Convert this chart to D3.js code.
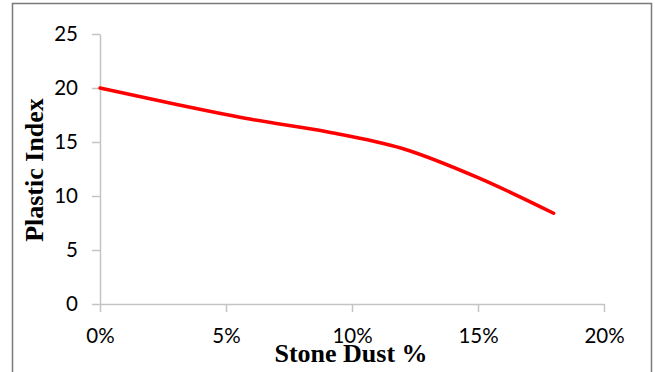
<!DOCTYPE html>
<html>
<head>
<meta charset="utf-8">
<script src="https://cdn.jsdelivr.net/npm/d3@7"></script>
<style>
  html, body { margin: 0; padding: 0; background: #fff; }
  svg { display: block; }
  .tick text { font-family: Lato, "Open Sans", sans-serif; font-size: 20.5px; fill: #000; }
  .axis-title { font-family: "Liberation Serif", "Times New Roman", serif; font-weight: bold; font-size: 26px; fill: #000; }
</style>
</head>
<body>
<svg id="chart" width="655" height="372"></svg>
<script>
// Stone dust content (fraction) and the measured plastic index
const stoneDust = [0, 0.03, 0.06, 0.09, 0.12, 0.15, 0.18];
const plasticIndex = [20.0, 18.5, 17.1, 15.95, 14.4, 11.7, 8.4];
const xTicks = [0, 0.05, 0.10, 0.15, 0.20];
const yTicks = [0, 5, 10, 15, 20, 25];

const svg = d3.select("#chart");

// chart frame
svg.append("rect")
  .attr("x", 12.5).attr("y", 3.5)
  .attr("width", 639).attr("height", 400)
  .attr("fill", "none")
  .attr("stroke", "#7a7a7a")
  .attr("stroke-width", 1.5);

const x = d3.scaleLinear().domain([0, 0.20]).range([100, 604]);
const y = d3.scaleLinear().domain([0, 25]).range([304, 34]);

const axisColor = "#c4c4c4";

const yAxis = svg.append("g")
  .attr("transform", `translate(${x(0)},0)`)
  .call(d3.axisLeft(y).tickValues(yTicks).tickSizeInner(8).tickSizeOuter(0).tickPadding(14));

const xAxis = svg.append("g")
  .attr("transform", `translate(0,${y(0)})`)
  .call(d3.axisBottom(x).tickValues(xTicks).tickFormat(d3.format(".0%"))
    .tickSizeInner(8).tickSizeOuter(0).tickPadding(16));

[xAxis, yAxis].forEach(g => {
  g.select(".domain").attr("stroke", axisColor).attr("stroke-width", 1.5);
  g.selectAll(".tick line").attr("stroke", axisColor).attr("stroke-width", 1.5);
  g.attr("font-family", null).attr("font-size", null);
});

// smoothed data line
const line = d3.line()
  .x((d, i) => x(stoneDust[i]))
  .y(d => y(d))
  .curve(d3.curveMonotoneX);

svg.append("path")
  .datum(plasticIndex)
  .attr("d", line)
  .attr("fill", "none")
  .attr("stroke", "#ff0000")
  .attr("stroke-width", 3.5)
  .attr("stroke-linecap", "round");

// axis titles
svg.append("text")
  .attr("class", "axis-title")
  .attr("transform", "translate(43,170) rotate(-90)")
  .attr("text-anchor", "middle")
  .text("Plastic Index");

svg.append("text")
  .attr("class", "axis-title")
  .attr("x", 351).attr("y", 362)
  .attr("text-anchor", "middle")
  .text("Stone Dust %");
</script>
</body>
</html>
